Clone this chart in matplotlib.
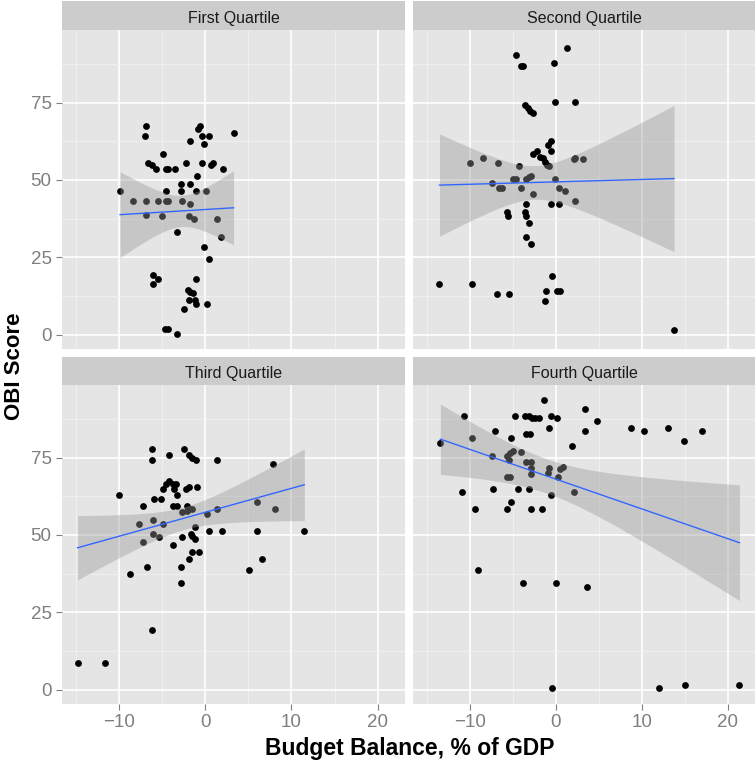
import numpy as np
import matplotlib
matplotlib.use('Agg')
from matplotlib import pyplot as plt

plt.rcParams['font.family'] = ['Liberation Sans', 'DejaVu Sans']

# panel titles
panel_names = ['First Quartile', 'Second Quartile', 'Third Quartile', 'Fourth Quartile']

# budget balance (% of GDP) and OBI score per quartile
q1_x = [-6.8, -7.0, -0.6, -0.8, -0.4, 0.45, 3.3, -1.8, -0.1, -4.9, -6.6, -6.2, -5.7, -4.5, -4.3,
        -3.5, -2.2, -0.3, 0.65, 0.9, 2.1, -0.9, -2.8, -1.7, -9.85, -4.5, -2.8, -1.1, 0.07, -8.3,
        -6.8, -5.5, -4.5, -4.3, -2.7, -1.7, -6.8, -5.0, -1.9, -1.3, 1.4, -3.2, 1.8, -0.1, 0.45,
        -6.0, -5.5, -6.0, -1.1, -2.0, -1.7, -1.4, -1.85, -1.2, -1.1, 0.25, -2.4, -4.65, -4.35, -3.2]
q1_y = [67.5, 64.2, 67.5, 66.4, 64.2, 64.2, 65.3, 62.6, 61.5, 58.4, 55.6, 54.9, 53.4, 53.4, 53.4,
        53.4, 55.6, 55.6, 54.8, 55.6, 53.4, 51.3, 48.6, 48.6, 46.5, 46.5, 46.5, 46.5, 46.5, 43.3,
        43.3, 43.3, 43.3, 43.3, 43.3, 42.2, 38.6, 38.4, 38.4, 37.3, 37.3, 33.0, 31.4, 28.3, 24.4,
        19.2, 18.1, 16.3, 18.1, 14.3, 13.6, 13.3, 11.1, 11.1, 10.0, 10.0, 8.2, 1.9, 1.9, 0.3]

q2_x = [-4.56, 1.28, -3.99, -3.8, -0.18, -0.03, 2.24, -3.53, -3.26, -2.95, -2.64, -0.57, -0.84,
        -0.57, -2.18, -2.64, -1.8, -1.49, -1.22, -1.03, -0.8, -9.94, -8.4, -6.67, -4.22, 2.12, 2.3,
        3.2, -4.95, -4.56, -3.41, -3.14, -2.83, -0.03, -7.44, -6.6, -6.21, -3.99, 0.39, 1.12, -2.64,
        2.3, -3.41, -0.57, 0.39, -5.71, -5.52, -3.6, -3.41, -3.06, -3.45, -2.87, -13.5, -9.75,
        -6.87, -5.37, -0.38, -1.14, 0.12, 0.5, -1.19, 13.76]
q2_y = [90.4, 92.6, 86.9, 86.9, 87.8, 75.3, 75.3, 74.3, 73.4, 72.4, 71.6, 62.6, 61.3,
        59.4, 59.4, 58.3, 57.5, 57.0, 55.9, 54.8, 54.5, 55.6, 57.2, 55.6, 54.5, 56.7, 57.2,
        56.7, 50.2, 50.2, 50.2, 51.0, 51.4, 50.2, 49.1, 47.3, 47.3, 47.5, 47.5, 46.4, 45.4,
        43.2, 42.2, 42.2, 42.2, 39.5, 38.4, 39.5, 38.4, 36.1, 31.4, 29.2, 16.3, 16.3,
        13.0, 13.0, 18.9, 14.1, 14.1, 14.1, 10.9, 1.4]

q3_x = [-6.2, -6.2, -2.43, -4.16, -1.85, -1.46, -1.08, 1.42, 7.88, -9.93, -7.16, -5.89, -5.12,
        -4.93, -4.54, -4.16, -3.77, -3.39, -3.58, -3.2, -2.24, -1.85, -0.89, -3.77, -3.2, -2.04,
        -2.62, -1.85, -1.46, -2.04, 1.42, 0.27, 6.04, 8.14, -7.62, -6.08, -4.93, -1.2, -6.08,
        -5.31, -7.16, 0.45, 1.99, 6.04, 11.5, -1.66, -1.46, -1.2, -2.62, -3.77, -1.46, -0.7,
        -1.85, 6.6, -6.77, -2.81, 5.06, -8.7, -2.81, -6.2, -14.77, -11.57]
q3_y = [77.9, 74.4, 77.9, 75.7, 75.7, 75.0, 74.4, 74.4, 73.0, 62.8, 59.5, 61.7, 61.7,
        64.9, 66.5, 67.6, 66.5, 66.5, 64.9, 62.8, 64.9, 65.4, 65.4, 59.5, 59.5, 59.5,
        57.4, 58.5, 58.5, 57.9, 58.5, 56.8, 60.6, 58.5, 53.6, 54.7, 53.6, 52.5, 50.4,
        49.3, 47.6, 51.4, 51.4, 51.4, 51.4, 50.4, 49.8, 48.7, 49.3, 46.6, 44.4, 44.4,
        42.3, 42.3, 39.7, 39.7, 38.5, 37.5, 34.3, 19.1, 8.5, 8.5]

q4_x = [-1.34, -10.7, -4.76, -3.53, -3.14, -2.75, -2.37, -1.99, -0.57, 0.2, 3.39, 4.77, -0.76,
        -7.06, -3.41, -3.03, 3.39, 8.72, 10.3, 13.1, 17.0, 14.9, -13.4, -9.75, -5.14, 1.93,
        -7.44, -5.63, -5.33, -4.95, -3.99, -5.45, -3.41, -2.83, -2.83, -2.83, -0.73, -0.91,
        0.82, 0.5, 0.31, -5.71, -5.33, -10.9, -7.25, -4.37, -3.06, -0.57, 2.09, -9.37, -5.71,
        -5.17, -2.83, -1.53, -8.98, -3.79, 0.01, 3.65, -0.38, 12.0, 15.06, 21.36]
q4_y = [93.8, 88.4, 88.4, 88.4, 88.4, 87.9, 87.9, 87.9, 88.4, 87.9, 90.6, 86.8, 84.7,
        83.6, 82.5, 82.5, 83.6, 84.7, 83.6, 84.7, 83.6, 80.3, 79.8, 81.4, 81.4, 78.7,
        75.5, 75.5, 76.6, 77.1, 76.8, 74.4, 73.5, 73.5, 71.7, 69.6, 71.7, 70.1,
        72.1, 71.2, 68.7, 68.7, 68.7, 63.8, 64.9, 64.9, 64.9, 62.8, 63.8, 58.5, 58.5,
        60.6, 58.5, 58.5, 38.6, 34.3, 34.3, 33.2, 0.5, 0.5, 1.6, 1.6]

x_ticks = [-10, 0, 10, 20]
y_ticks = [0, 25, 50, 75]

all_x = [q1_x, q2_x, q3_x, q4_x]
all_y = [q1_y, q2_y, q3_y, q4_y]


def t975(df):
    # cornish-fisher approx of the t quantile (no scipy here)
    z = 1.959964
    return z + (z**3 + z) / (4 * df) + (5 * z**5 + 16 * z**3 + 3 * z) / (96 * df**2)


def lm_band(x, y):
    x = np.asarray(x, float)
    y = np.asarray(y, float)
    n = len(x)
    b, a = np.polyfit(x, y, 1)
    res = y - (a + b * x)
    s2 = np.sum(res**2) / (n - 2)
    sxx = np.sum((x - x.mean())**2)
    xs = np.linspace(x.min(), x.max(), 80)
    fit = a + b * xs
    se = np.sqrt(s2 * (1.0 / n + (xs - x.mean())**2 / sxx))
    t = t975(n - 2)
    return xs, fit, fit - t * se, fit + t * se


W, H = 755, 762
fig = plt.figure(figsize=(W / 100, H / 100), dpi=100)
fig.patch.set_facecolor('white')


def px_axes(l, t, r, b):
    return fig.add_axes([l / W, 1 - b / H, (r - l) / W, (b - t) / H])


cols = [(62, 405), (413, 755)]
rows = [(1, 30, 349), (357, 385, 704)]   # strip top, panel top, panel bottom

xlim = (-16.58, 23.17)
ylim = (-4.69, 98.5)

for i in range(4):
    r, c = divmod(i, 2)
    l, rr = cols[c]
    st, pt, pb = rows[r]

    # strip on top of each panel
    sax = px_axes(l, st, rr, pt)
    sax.set_facecolor('#CCCCCC')
    sax.set_xticks([])
    sax.set_yticks([])
    for s in sax.spines.values():
        s.set_visible(False)
    sax.text(0.5, 0.4, panel_names[i], ha='center', va='center', fontsize=11.5,
             color='#1A1A1A', transform=sax.transAxes)

    ax = px_axes(l, pt, rr, pb)
    ax.set_facecolor('#E5E5E5')
    ax.set_xlim(*xlim)
    ax.set_ylim(*ylim)
    ax.set_xticks(x_ticks)
    ax.set_yticks(y_ticks)
    ax.set_xticks([-15, -5, 5, 15], minor=True)
    ax.set_yticks([12.5, 37.5, 62.5, 87.5], minor=True)
    ax.grid(True, which='major', color='white', lw=1.2, zorder=0)
    ax.grid(True, which='minor', color='#F2F2F2', lw=0.6, zorder=0)
    ax.set_axisbelow(True)
    for s in ax.spines.values():
        s.set_visible(False)
    ax.tick_params(which='minor', length=0)
    ax.tick_params(which='major', length=4.5, width=0.8, color='#7F7F7F',
                   labelcolor='#7F7F7F', labelsize=13.5, pad=3)
    if r == 0:
        ax.tick_params(axis='x', which='major', length=0, labelbottom=False)
    if c == 1:
        ax.tick_params(axis='y', which='major', length=0, labelleft=False)

    ax.scatter(all_x[i], all_y[i], s=24, color='black', linewidths=0, zorder=2)
    xs, fit, lo, hi = lm_band(all_x[i], all_y[i])
    ax.fill_between(xs, lo, hi, color='#999999', alpha=0.4, linewidth=0, zorder=3)
    ax.plot(xs, fit, color='#3366FF', lw=1.0, zorder=4)

fig.text(410 / W, 1 - 748 / H, 'Budget Balance, % of GDP', ha='center', va='center',
         fontsize=16.5, fontweight='bold')
fig.text(14 / W, 1 - 366 / H, 'OBI Score', ha='center', va='center', rotation=90,
         fontsize=16, fontweight='bold')

plt.savefig('out.png', dpi=100)
